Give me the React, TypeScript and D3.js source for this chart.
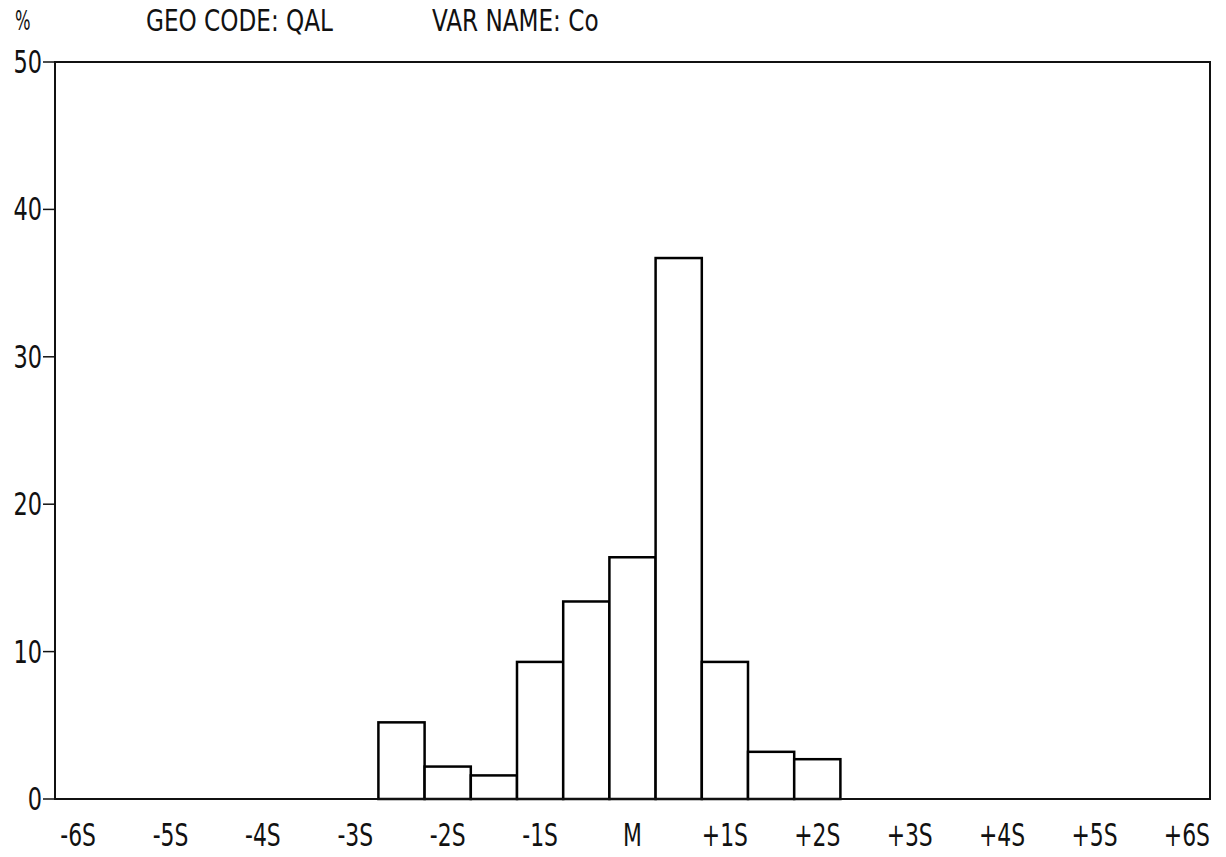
import React from "react";
import * as d3 from "d3";

// histogram of Co, bins of half a standard deviation, centred on the mean
const binCenters = [-2.5, -2, -1.5, -1, -0.5, 0, 0.5, 1, 1.5, 2];
const percents = [5.2, 2.2, 1.6, 9.3, 13.4, 16.4, 36.7, 9.3, 3.2, 2.7];
const binWidth = 0.5;

const xTickValues = [-6, -5, -4, -3, -2, -1, 0, 1, 2, 3, 4, 5, 6];
const xTickLabels = ["-6S", "-5S", "-4S", "-3S", "-2S", "-1S", "M", "+1S", "+2S", "+3S", "+4S", "+5S", "+6S"];
const yTicks = [0, 10, 20, 30, 40, 50];

const W = 1226;
const H = 857;
const font = "'DejaVu Sans Condensed', 'Liberation Sans Narrow', 'DejaVu Sans', sans-serif";

// printer-style lettering: tall and narrow
function Narrow(props: { x: number; y: number; size: number; sx: number; anchor?: string; baseline?: string; children: any }) {
  return (
    <text
      transform={`translate(${props.x},${props.y}) scale(${props.sx},1)`}
      fontFamily={font}
      fontSize={props.size}
      fill="#111"
      textAnchor={props.anchor || "start"}
      dominantBaseline={props.baseline || "auto"}
    >
      {props.children}
    </text>
  );
}

export default function App() {
  const x = d3.scaleLinear().domain([-6.25, 6.25]).range([55, 1210]);
  const y = d3.scaleLinear().domain([0, 50]).range([799, 62]);

  const left = x.range()[0];
  const right = x.range()[1];
  const bottom = y(0);
  const top = y(50);

  return (
    <svg
      width={W}
      height={H}
      style={{ position: "absolute", left: 0, top: 0, display: "block", background: "#fff" }}
    >
      {/* header */}
      <Narrow x={15} y={30} size={26} sx={0.7}>%</Narrow>
      <Narrow x={146} y={31} size={31} sx={0.83}>GEO CODE: QAL</Narrow>
      <Narrow x={432} y={31} size={31} sx={0.83}>VAR NAME: Co</Narrow>

      {/* bars */}
      <g>
        {binCenters.map((c, i) => (
          <rect
            key={i}
            x={x(c - binWidth / 2)}
            y={y(percents[i])}
            width={x(c + binWidth / 2) - x(c - binWidth / 2)}
            height={bottom - y(percents[i])}
            fill="#fff"
            stroke="#000"
            strokeWidth={2.5}
          />
        ))}
      </g>

      {/* frame */}
      <rect
        x={left}
        y={top}
        width={right - left}
        height={bottom - top}
        fill="none"
        stroke="#111"
        strokeWidth={2}
      />

      {/* y axis ticks */}
      {yTicks.map((t) => (
        <g key={t}>
          <line x1={left - 12} x2={left} y1={y(t)} y2={y(t)} stroke="#111" strokeWidth={1.5} />
          <Narrow x={left - 13} y={y(t) + 11} size={32} sx={0.78} anchor="end">
            {t}
          </Narrow>
        </g>
      ))}

      {/* x axis labels */}
      {xTickValues.map((v, i) => (
        <Narrow key={v} x={x(v)} y={846} size={32} sx={0.76} anchor="middle">
          {xTickLabels[i]}
        </Narrow>
      ))}
    </svg>
  );
}
